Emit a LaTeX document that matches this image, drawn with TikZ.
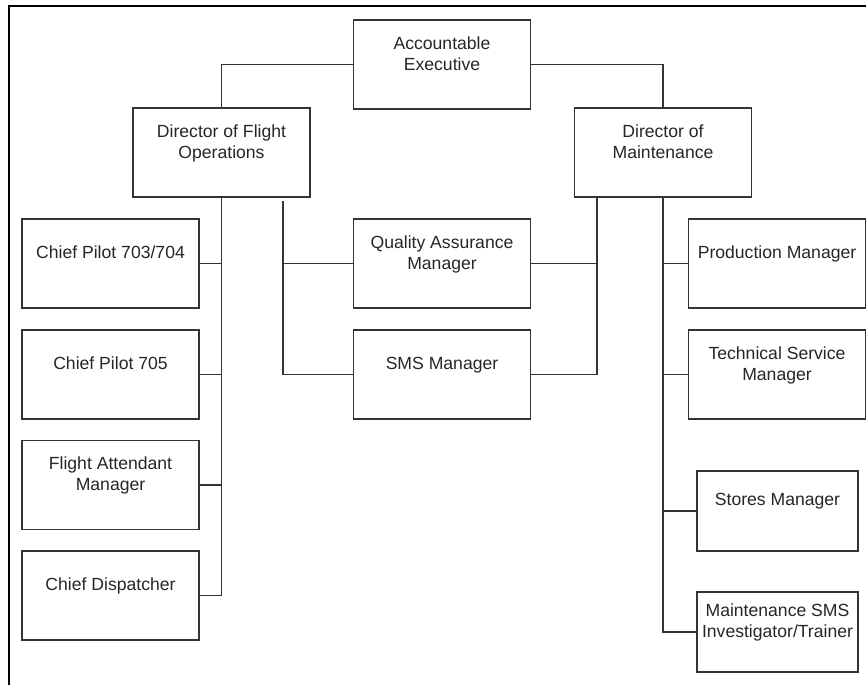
\documentclass[tikz,border=0pt]{standalone}
\usepackage{fontspec}
\setmainfont{Liberation Sans}
\usetikzlibrary{positioning, calc}

\begin{document}
\begin{tikzpicture}[x=0.75pt, y=-0.75pt, align=center,
    box/.style={draw=black!80, line width=1.2pt, rectangle, minimum width=133pt, minimum height=66.5pt,
        inner sep=2pt, text=black!85, font=\fontsize{13.2}{15.8}\selectfont, text depth=17pt},
    smallbox/.style={box, minimum width=120.5pt, minimum height=60pt},
    link/.style={draw=black!80, line width=1.1pt}]
    \useasboundingbox (0,0) rectangle (866,685);

    % Draw the frame
    \draw[line width=1.4pt] (9,685) -- (9,6) -- (866,6);

    % Draw the top of the chart
    \node[box] (exec) at (442,64.5) {Accountable\\Executive};
    \node[box] (dfo) at (221.5,152.5) {Director of Flight\\Operations};
    \node[box] (dom) at (663,152.5) {Director of\\Maintenance};

    % Draw the flight operations boxes
    \node[box] (cp1) at (110.5,263.5) {Chief Pilot 703/704};
    \node[box] (cp2) at (110.5,374.5) {Chief Pilot 705};
    \node[box] (fam) at (110.5,485) {Flight Attendant\\Manager};
    \node[box] (disp) at (110.5,595.5) {Chief Dispatcher};

    % Draw the middle boxes
    \node[box] (qam) at (442,263.5) {Quality Assurance\\Manager};
    \node[box] (smsm) at (442,374.5) {SMS Manager};

    % Draw the maintenance boxes
    \node[box] (prod) at (777,263.5) {Production Manager};
    \node[box] (tsm) at (777,374.5) {Technical Service\\Manager};
    \node[smallbox] (stores) at (777.5,511) {Stores Manager};
    \node[smallbox] (msms) at (777.5,632) {Maintenance SMS\\Investigator/Trainer};

    % Draw the lines from the top
    \draw[link] (exec.west) -| (dfo.north);
    \draw[link] (exec.east) -| (dom.north);

    % Draw the flight operations lines
    \draw[link] (dfo.south) |- (disp.east);
    \foreach \n in {cp1, cp2, fam}
        \draw[link] (\n.east) -- (\n.east -| dfo.south);

    % Draw the lines to the middle boxes
    \coordinate (midleft) at (283,201);
    \coordinate (midright) at (597,197);
    \draw[link] (midleft) |- (smsm.west);
    \draw[link] (qam.west) -- (qam.west -| midleft);
    \draw[link] (midright) |- (smsm.east);
    \draw[link] (qam.east) -- (qam.east -| midright);

    % Draw the maintenance lines
    \draw[link] (dom.south) |- (msms.west);
    \foreach \n in {prod, tsm, stores}
        \draw[link] (\n.west) -- (\n.west -| dom.south);
\end{tikzpicture}
\end{document}
